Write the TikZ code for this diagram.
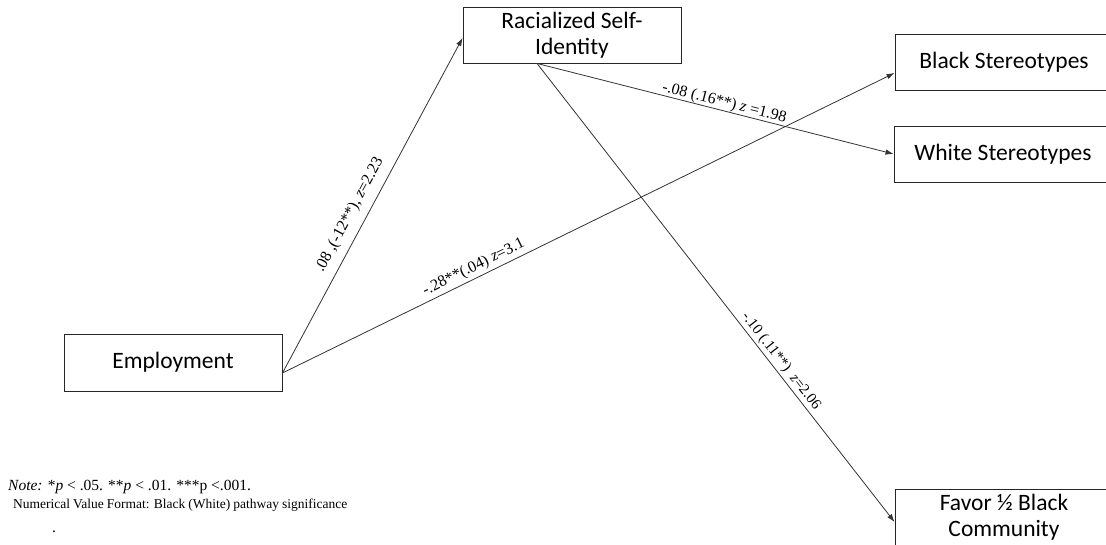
\documentclass[tikz,border=0pt]{standalone}
\usepackage{fontspec}
\setmainfont{Liberation Serif}
\newfontfamily\boxfont{Carlito}
\usetikzlibrary{arrows.meta}
\begin{document}
\begin{tikzpicture}[x=1pt,y=-1pt,
  box/.style={draw=black!85, line width=0.9pt, minimum width=218pt, minimum height=56pt, inner sep=0pt, align=center, font=\boxfont\fontsize{23.5}{26}\selectfont},
  conn/.style={draw=black!80, line width=0.8pt, -{Latex[length=8pt,width=5.5pt]}},
  lab/.style={sloped, above, inner sep=2pt, font=\fontsize{16}{18}\selectfont},
  note/.style={anchor=base west, inner sep=0pt, font=\fontsize{15.5}{17}\selectfont}]
\useasboundingbox (0,0) rectangle (1106,545);
\node[box] (rsi) at (572,35) {Racialized Self-\\Identity};
\node[box] (black) at (1004,62) {Black Stereotypes};
\node[box] (white) at (1003,154) {White Stereotypes};
\node[box, minimum height=57pt] (favor) at (1004,517.5) {Favor ½ Black\\Community};
\node[box, minimum height=57pt] (emp) at (173,362.5) {Employment};

\draw[conn] ([yshift=-10.5pt]emp.east) -- node[lab, pos=0.45, above=6pt] {.08 ,(-12**), \textit{z}=2.23} ([yshift=-3pt]rsi.west);
\draw[conn] ([yshift=-10.5pt]emp.east) -- node[lab, pos=0.32, above=1pt] {-.28**(.04) \textit{z}=3.1} ([yshift=-11pt]black.west);
\draw[conn] ([xshift=-35pt]rsi.south) -- node[lab, pos=0.52, above=-2pt] {-.08 (.16**) \textit{z} =1.98} (white.west);
\draw[conn] ([xshift=-35pt]rsi.south) -- node[lab, pos=0.662, above=0pt, font=\fontsize{15}{17}\selectfont] {-.10 (.11**)\ \ \textit{z}=2.06} ([yshift=-4.5pt]favor.west);

\node[note] (n1) at (8,490) {\textit{Note:} *\textit{p} < .05. **\textit{p} < .01. ***p <.001.};
\node[note, font=\fontsize{13.5}{16}\selectfont] (n2) at (13,508) {\makebox[334pt][s]{Numerical Value Format: Black (White) pathway significance}};
\node[note] (n3) at (52,532) {.};
\end{tikzpicture}
\end{document}
